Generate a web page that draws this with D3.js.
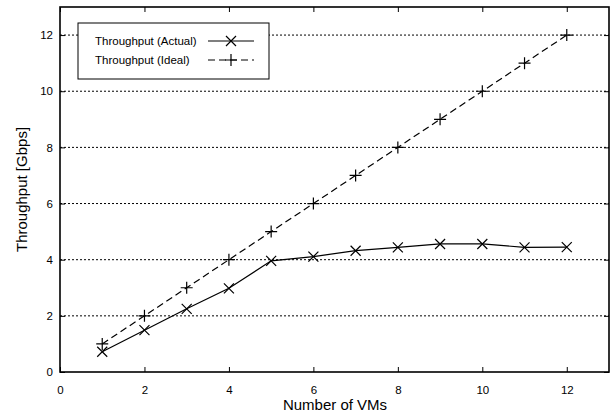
<!DOCTYPE html>
<html>
<head>
<meta charset="utf-8">
<script src="https://cdn.jsdelivr.net/npm/d3@7"></script>
<style>
  body { margin: 0; background: #fff; overflow: hidden; }
  svg { display: block; font-family: "Liberation Sans", Arial, sans-serif; }
</style>
</head>
<body>
<svg id="chart"></svg>
<script>
// number of VMs
var vms = [1, 2, 3, 4, 5, 6, 7, 8, 9, 10, 11, 12];
// throughput in Gbps
var actual = [0.72, 1.49, 2.25, 2.98, 3.96, 4.11, 4.32, 4.44, 4.56, 4.56, 4.44, 4.45];
var ideal  = [1, 2, 3, 4, 5, 6, 7, 8, 9, 10, 11, 12];
var xTicks = [0, 2, 4, 6, 8, 10, 12];
var yTicks = [0, 2, 4, 6, 8, 10, 12];
var seriesNames = ["Throughput (Actual)", "Throughput (Ideal)"];

var outerWidth = 616, outerHeight = 414;
var margin = { left: 60, top: 7, right: 7, bottom: 42 };
var innerWidth  = outerWidth  - margin.left - margin.right;
var innerHeight = outerHeight - margin.top  - margin.bottom;

var svg = d3.select("#chart")
  .attr("width", outerWidth)
  .attr("height", outerHeight);
var g = svg.append("g")
  .attr("transform", "translate(" + margin.left + "," + margin.top + ")");

var xScale = d3.scaleLinear().domain([0, 13]).range([0, innerWidth]);
var yScale = d3.scaleLinear().domain([0, 13]).range([innerHeight, 0]);

// dotted grid lines
g.selectAll(".grid").data(yTicks.filter(function (d){ return d > 0; }))
  .enter().append("line")
  .attr("class", "grid")
  .attr("x1", 0).attr("x2", innerWidth)
  .attr("y1", function (d){ return yScale(d); })
  .attr("y2", function (d){ return yScale(d); })
  .attr("stroke", "#000").attr("stroke-width", 1)
  .attr("stroke-dasharray", "2,2");

// axes, ticks pointing inward, mirrored on top / right
var xAxisG = g.append("g").attr("transform", "translate(0," + innerHeight + ")")
  .call(d3.axisBottom(xScale).tickValues(xTicks).tickSizeInner(-5).tickSizeOuter(0).tickPadding(14));
var xTopG = g.append("g")
  .call(d3.axisTop(xScale).tickValues(xTicks).tickSizeInner(-5).tickSizeOuter(0));
var yAxisG = g.append("g")
  .call(d3.axisLeft(yScale).tickValues(yTicks).tickSizeInner(-5).tickSizeOuter(0).tickPadding(7));
var yRightG = g.append("g").attr("transform", "translate(" + innerWidth + ",0)")
  .call(d3.axisRight(yScale).tickValues(yTicks).tickSizeInner(-5).tickSizeOuter(0));

xTopG.selectAll("text").remove();
yRightG.selectAll("text").remove();
[xAxisG, xTopG, yAxisG, yRightG].forEach(function (a){
  a.select(".domain").remove();
  a.selectAll("line").attr("stroke", "#000").attr("stroke-width", 1);
  a.selectAll("text").attr("fill", "#000").style("font-size", "11.5px");
});

// frame
g.append("rect")
  .attr("x", 0).attr("y", 0)
  .attr("width", innerWidth).attr("height", innerHeight)
  .attr("fill", "none").attr("stroke", "#000").attr("stroke-width", 1.6);

// series
var actualData = vms.map(function (v, i){ return { x: v, y: actual[i] }; });
var idealData  = vms.map(function (v, i){ return { x: v, y: ideal[i] }; });
var line = d3.line()
  .x(function (d){ return xScale(d.x); })
  .y(function (d){ return yScale(d.y); });

g.append("path").datum(idealData)
  .attr("d", line).attr("fill", "none").attr("stroke", "#000")
  .attr("stroke-width", 1.2).attr("stroke-dasharray", "7,4");
g.append("path").datum(actualData)
  .attr("d", line).attr("fill", "none").attr("stroke", "#000")
  .attr("stroke-width", 1.2);

function crossMark(sel, s){
  sel.append("path")
    .attr("d", "M" + (-s) + "," + (-s) + "L" + s + "," + s + "M" + (-s) + "," + s + "L" + s + "," + (-s))
    .attr("stroke", "#000").attr("stroke-width", 1.2).attr("fill", "none");
}
function plusMark(sel, s){
  sel.append("path")
    .attr("d", "M" + (-s) + ",0L" + s + ",0M0," + (-s) + "L0," + s)
    .attr("stroke", "#000").attr("stroke-width", 1.2).attr("fill", "none");
}

g.selectAll(".pt-ideal").data(idealData).enter().append("g")
  .attr("class", "pt-ideal")
  .attr("transform", function (d){ return "translate(" + xScale(d.x) + "," + yScale(d.y) + ")"; })
  .each(function (){ plusMark(d3.select(this), 6); });
g.selectAll(".pt-actual").data(actualData).enter().append("g")
  .attr("class", "pt-actual")
  .attr("transform", function (d){ return "translate(" + xScale(d.x) + "," + yScale(d.y) + ")"; })
  .each(function (){ crossMark(d3.select(this), 5); });

// legend
var legend = g.append("g").attr("transform", "translate(18,16)");
legend.append("rect")
  .attr("x", 0).attr("y", 0).attr("width", 191).attr("height", 56)
  .attr("fill", "#fff").attr("stroke", "#000").attr("stroke-width", 1);
seriesNames.forEach(function (name, i){
  var yy = 18 + i * 19;
  legend.append("text")
    .attr("x", 17).attr("y", yy).attr("dy", "0.35em")
    .style("font-size", "11.5px").text(name);
  legend.append("line")
    .attr("x1", 130).attr("x2", 176).attr("y1", yy).attr("y2", yy)
    .attr("stroke", "#000").attr("stroke-width", 1.2)
    .attr("stroke-dasharray", i === 0 ? null : "7,4");
  var m = legend.append("g").attr("transform", "translate(153," + yy + ")");
  if (i === 0) crossMark(m, 5); else plusMark(m, 6);
});

// axis titles
svg.append("text")
  .attr("x", margin.left + innerWidth / 2 + 0.5).attr("y", outerHeight - 4)
  .attr("text-anchor", "middle").style("font-size", "15px")
  .text("Number of VMs");
svg.append("text")
  .attr("transform", "translate(27," + (margin.top + innerHeight / 2) + ") rotate(-90)")
  .attr("text-anchor", "middle").style("font-size", "15px")
  .text("Throughput [Gbps]");
</script>
</body>
</html>
